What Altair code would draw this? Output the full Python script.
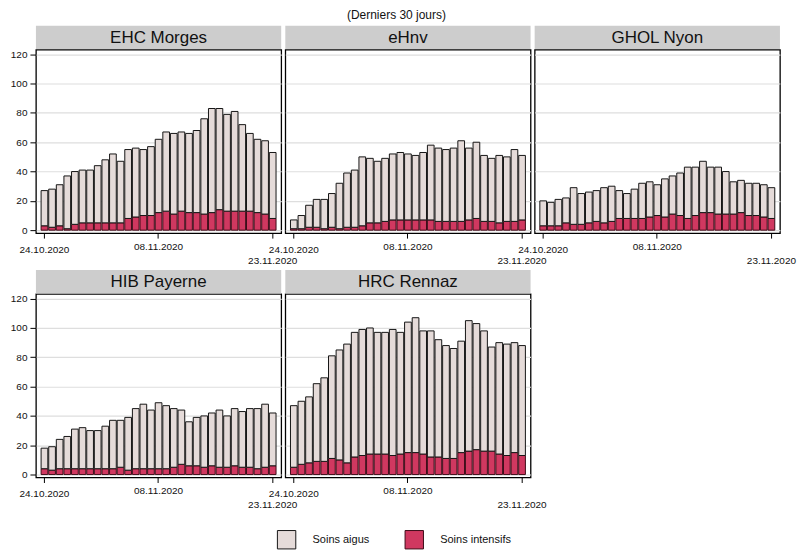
import altair as alt
import pandas as pd

# ---------------- data ----------------
dates = [d.strftime("%d.%m.%Y") for d in pd.date_range("2020-10-24", periods=31, freq="D")]
tick_dates = ["24.10.2020", "08.11.2020", "23.11.2020"]
series = ["Soins aigus", "Soins intensifs"]
hospitals = ["EHC Morges", "eHnv", "GHOL Nyon", "HIB Payerne", "HRC Rennaz"]
main_title = "(Derniers 30 jours)"

# total patients (aigus + intensifs) per day
morges_total = [27, 28, 31, 37, 40, 41, 41, 44, 48, 52, 47, 55, 56, 55, 57, 62, 67, 66, 67, 66, 68, 76, 83, 83, 79, 81, 72, 66, 62, 61, 53]
morges_icu = [3, 2, 3, 1, 4, 5, 5, 5, 5, 5, 5, 8, 9, 10, 10, 12, 13, 11, 13, 12, 12, 11, 12, 14, 13, 13, 13, 13, 12, 11, 8]

ehnv_total = [7, 10, 17, 21, 21, 25, 32, 39, 41, 50, 49, 47, 49, 52, 53, 52, 51, 53, 58, 56, 55, 56, 61, 56, 60, 51, 49, 51, 50, 55, 51]
ehnv_icu = [1, 1, 2, 2, 1, 2, 1, 2, 2, 3, 5, 5, 6, 7, 7, 7, 7, 7, 7, 6, 6, 6, 6, 7, 8, 6, 6, 5, 6, 6, 7]

nyon_total = [20, 19, 21, 22, 29, 25, 26, 27, 29, 30, 27, 25, 28, 32, 33, 31, 35, 37, 39, 43, 43, 47, 43, 43, 40, 33, 34, 32, 32, 31, 29]
nyon_icu = [3, 3, 3, 5, 4, 4, 5, 6, 5, 6, 8, 8, 8, 8, 9, 10, 9, 11, 10, 8, 10, 12, 12, 11, 11, 11, 12, 10, 10, 9, 8]

payerne_total = [18, 19, 24, 26, 31, 32, 30, 30, 33, 37, 37, 39, 45, 48, 44, 49, 47, 45, 44, 36, 39, 40, 42, 44, 40, 45, 43, 45, 45, 48, 42]
payerne_icu = [4, 3, 4, 4, 4, 4, 4, 4, 4, 4, 5, 3, 4, 4, 4, 4, 4, 5, 7, 6, 6, 5, 6, 5, 5, 6, 5, 5, 4, 5, 6]

rennaz_total = [47, 50, 53, 62, 66, 81, 85, 89, 97, 99, 100, 97, 97, 99, 97, 104, 107, 98, 98, 92, 88, 86, 91, 105, 103, 98, 87, 90, 89, 90, 88]
rennaz_icu = [5, 7, 8, 9, 9, 11, 10, 8, 12, 13, 14, 14, 14, 13, 14, 15, 15, 14, 12, 12, 11, 11, 15, 16, 17, 16, 16, 14, 13, 15, 13]

totals = [morges_total, ehnv_total, nyon_total, payerne_total, rennaz_total]
icus = [morges_icu, ehnv_icu, nyon_icu, payerne_icu, rennaz_icu]

# ---------------- style ----------------
FONT = "Liberation Sans"
W, H = 245.9, 184
fill_colors = ["#e5dbd9", "#d03860"]
stroke_colors = ["#161616", "#3d0b17"]

# staggered tick labels (as in the original graph)
label_padding = {
    "condition": [
        {"test": "datum.value == '24.10.2020'", "value": 6.5},
        {"test": "datum.value == '23.11.2020'", "value": 17},
    ],
    "value": 3.5,
}


def panel(name, tot, icu, show_y, with_title):
    rows = []
    for d, t, i in zip(dates, tot, icu):
        rows.append({"date": d, "series": "Soins intensifs", "ord": 0, "value": i})
        rows.append({"date": d, "series": "Soins aigus", "ord": 1, "value": t - i})
    df = pd.DataFrame(rows)

    if show_y:
        yaxis = alt.Axis(values=[0, 20, 40, 60, 80, 100, 120], grid=True, title=None,
                         domain=False, tickSize=6, tickColor="#000000", labelPadding=3,
                         labelFontSize=10, labelColor="#111111")
    else:
        yaxis = alt.Axis(values=[0, 20, 40, 60, 80, 100, 120], grid=True, title=None,
                         domain=False, ticks=False, labels=False)

    xaxis = alt.Axis(values=tick_dates, title=None, labelAngle=0, domain=False,
                     tickSize=5, tickColor="#000000", labelPadding=label_padding,
                     labelFontSize=10, labelColor="#111111",
                     labelOverlap=False, labelBaseline="top")

    legend = alt.Legend(title=None, orient="none", legendX=241.3, legendY=481,
                        direction="horizontal", symbolType="square", symbolSize=340,
                        symbolStrokeWidth=1, labelFontSize=11, labelColor="#111111",
                        labelOffset=16, columnPadding=33)

    bars = alt.Chart(df).mark_bar(strokeWidth=1).encode(
        x=alt.X("date:O", sort=dates,
                scale=alt.Scale(paddingInner=0.12, paddingOuter=0.68), axis=xaxis),
        y=alt.Y("value:Q", stack="zero",
                scale=alt.Scale(domain=[-2, 123.2], nice=False, zero=False), axis=yaxis),
        color=alt.Color("series:N", scale=alt.Scale(domain=series, range=fill_colors),
                        legend=legend),
        stroke=alt.Stroke("series:N", scale=alt.Scale(domain=series, range=stroke_colors),
                          legend=legend),
        order=alt.Order("ord:Q", sort="ascending"),
    )

    hdr = pd.DataFrame({"t": [name]})
    rect = alt.Chart(hdr).mark_rect(color="#cdcdcd").encode(
        x=alt.value(0), x2=alt.value(W), y=alt.value(-24), y2=alt.value(-0.5))
    txt = alt.Chart(hdr).mark_text(fontSize=17, color="#111111", baseline="middle",
                                   align="center").encode(
        x=alt.value(W / 2), y=alt.value(-12), text="t:N")
    layers = [bars, rect, txt]

    if with_title:
        ttl = alt.Chart(pd.DataFrame({"t": [main_title]})).mark_text(
            fontSize=12, color="#111111", baseline="middle", align="center").encode(
            x=alt.value(W / 2 - 11.5), y=alt.value(-34.5), text="t:N")
        layers.append(ttl)

    return alt.layer(*layers).properties(width=W, height=H)


panels = [panel(n, t, i, k % 3 == 0, k == 1)
          for k, (n, t, i) in enumerate(zip(hospitals, totals, icus))]

chart = alt.concat(*panels, columns=3, spacing={"row": 61, "column": 4}, bounds="flush").properties(
    padding={"left": 1, "top": -1, "right": 0, "bottom": 0},
).configure(font=FONT).configure_view(
    stroke="#000000", strokeWidth=1.3
).configure_axis(
    gridColor="#dedede", gridWidth=1.2
)

chart.save("out.html", embed_options={"renderer": "svg", "actions": False})
